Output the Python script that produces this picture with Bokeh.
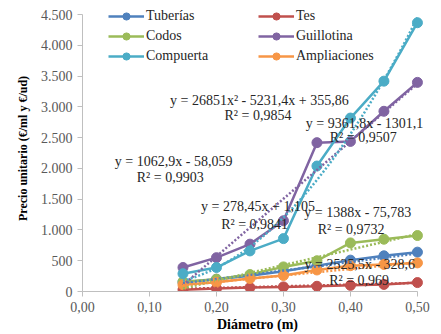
from bokeh.plotting import figure
from bokeh.models import FixedTicker, Legend, LegendItem, Label
from bokeh.embed import file_html
from bokeh.resources import INLINE
import numpy as np

diam = [0.15, 0.20, 0.25, 0.30, 0.35, 0.40, 0.45, 0.50]
tuberias = [150, 200, 255, 330, 420, 510, 580, 640]
tes = [30, 50, 65, 75, 85, 100, 115, 145]
codos = [160, 200, 275, 400, 500, 790, 850, 910]
guillotina = [390, 550, 770, 1150, 2420, 2440, 2930, 3400]
compuerta = [290, 390, 660, 860, 2040, 2820, 3420, 4370]
ampliaciones = [110, 150, 210, 260, 350, 420, 440, 465]

names = ["Tuberías", "Tes", "Codos", "Guillotina", "Compuerta", "Ampliaciones"]
colors = ["#4F81BD", "#C0504D", "#9BBB59", "#8064A2", "#4BACC6", "#F79646"]
series = [tuberias, tes, codos, guillotina, compuerta, ampliaciones]
# trend coefficients (a2, a1, a0) as printed on the chart
trend_coef = [(0, 1388, -75.783), (0, 278.45, 1.105), (0, 2525.5, -328.6),
              (0, 9361.8, -1301.1), (26851, -5231.4, 355.86), (0, 1062.9, -58.059)]
eq_text = ["y = 1388x - 75,783", "y = 278,45x + 1,105", "y = 2525,5x - 328,6",
           "y = 9361,8x - 1301,1", "y = 26851x² - 5231,4x + 355,86", "y = 1062,9x - 58,059"]
r2_text = ["R² = 0,9732", "R² = 0,9841", "R² = 0,969",
           "R² = 0,9507", "R² = 0,9854", "R² = 0,9903"]

x_ticks = [0, 0.1, 0.2, 0.3, 0.4, 0.5]
x_tick_labels = ["0,00", "0,10", "0,20", "0,30", "0,40", "0,50"]
y_ticks = [0, 500, 1000, 1500, 2000, 2500, 3000, 3500, 4000, 4500]
y_tick_labels = ["0", "500", "1.000", "1.500", "2.000", "2.500", "3.000", "3.500", "4.000", "4.500"]

FONT = "Liberation Serif"

p = figure(width=441, height=334, output_backend="svg", toolbar_location=None,
           x_range=(0, 0.5225), y_range=(0, 4650),
           min_border_left=82, min_border_right=9, min_border_top=5, min_border_bottom=42)
p.grid.visible = False
p.outline_line_color = None
p.background_fill_color = "white"

for ax, ticks, labels in ((p.xaxis[0], x_ticks, x_tick_labels), (p.yaxis[0], y_ticks, y_tick_labels)):
    ax.ticker = FixedTicker(ticks=ticks)
    ax.major_label_overrides = {t: l for t, l in zip(ticks, labels)}
    ax.axis_line_color = "#BFBFBF"
    ax.major_tick_line_color = "#BFBFBF"
    ax.minor_tick_line_color = None
    ax.major_tick_in = 0
    ax.major_tick_out = 5
    ax.major_label_text_font = FONT
    ax.major_label_text_font_size = "14px"
    ax.major_label_text_color = "#595959"
    ax.axis_label_text_font = FONT
    ax.axis_label_text_font_style = "bold"
    ax.axis_label_text_font_size = "14px"
    ax.axis_label_text_color = "#000000"

p.yaxis.bounds = (0, 4500)
p.xaxis.bounds = (0, 0.5)
p.xaxis.axis_label = "Diámetro (m)"
p.xaxis.axis_label_standoff = 2
p.yaxis.axis_label = "Precio unitario (€/ml y €/ud)"
p.yaxis.axis_label_text_font_size = "12px"
p.yaxis.axis_label_standoff = 8

xs = np.linspace(diam[0], diam[-1], 50)
items = []
for name, col, ys in zip(names, colors, series):
    r1 = p.line(diam, ys, line_color=col, line_width=2.5)
    r2 = p.scatter(diam, ys, size=10, fill_color=col, line_color=col)
    items.append(LegendItem(label=name, renderers=[r1, r2]))
for col, (a2, a1, a0) in zip(colors, trend_coef):
    yt = a2 * xs ** 2 + a1 * xs + a0
    p.line(xs, yt, line_color=col, line_width=2.5, line_dash="2 2")

def mk_legend(its, x, y):
    lg = Legend(items=its, location=(x, y), orientation="vertical",
                label_text_font=FONT, label_text_font_size="14px", label_text_color="#262626",
                glyph_width=36, glyph_height=18, label_height=18, spacing=2,
                padding=0, margin=0, border_line_color=None, background_fill_alpha=0,
                label_standoff=2)
    p.add_layout(lg, "center")

mk_legend([items[0], items[2], items[4]], 26, 226)
mk_legend([items[1], items[3], items[5]], 176, 226)

# label positions (data units)
eq_pos = [(0.411, 1290), (0.262, 1387), (0.414, 435), (0.421, 2726), (0.264, 3113), (0.136, 2113)]
r2_pos = [(0.401, 1000), (0.257, 1097), (0.413, 177), (0.419, 2500), (0.262, 2855), (0.131, 1855)]
for t, (x, y) in zip(eq_text, eq_pos):
    p.add_layout(Label(x=x, y=y, text=t, text_align="center", text_baseline="middle",
                       text_font=FONT, text_font_size="14px", text_color="#262626"))
for t, (x, y) in zip(r2_text, r2_pos):
    p.add_layout(Label(x=x, y=y, text=t, text_align="center", text_baseline="middle",
                       text_font=FONT, text_font_size="14px", text_color="#262626"))

open("out.html", "w").write(file_html(p, INLINE))
